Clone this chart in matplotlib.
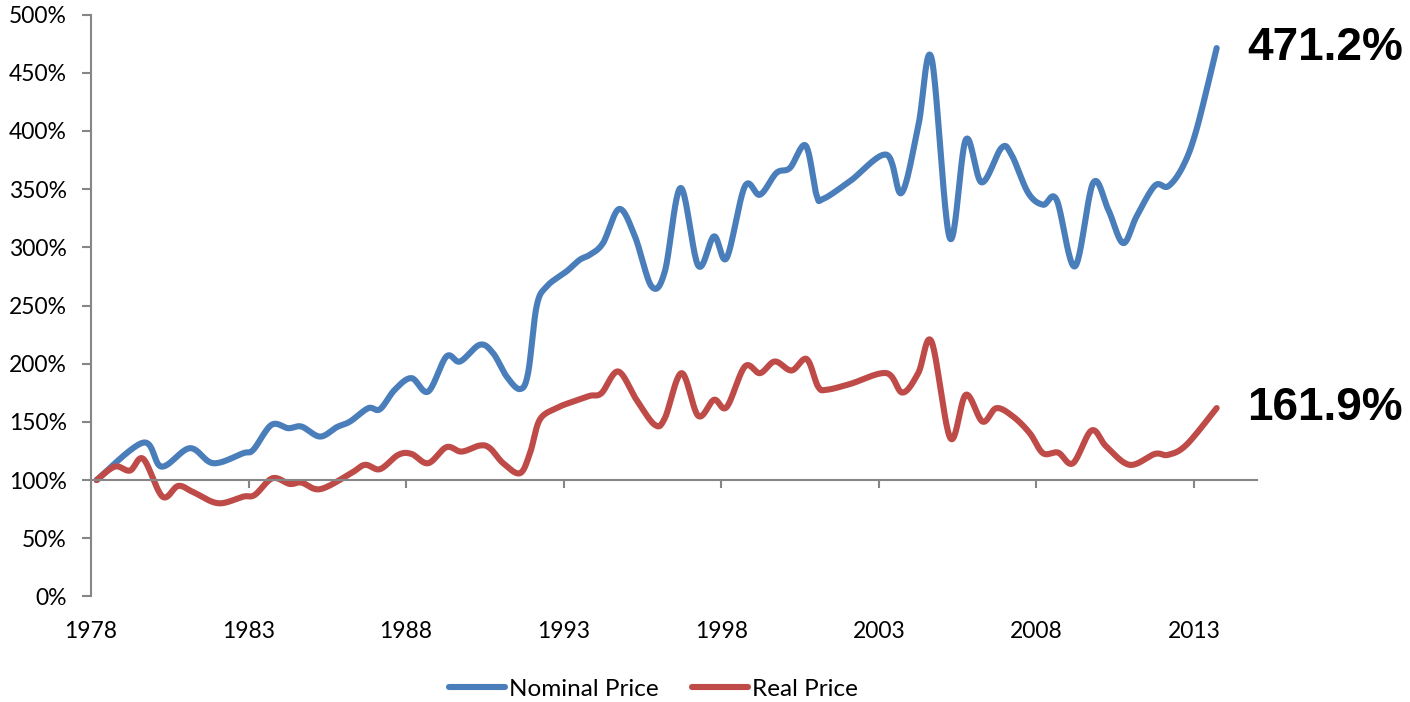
import numpy as np
import matplotlib.pyplot as plt

# values (index, 1978 = 100%)
nominal_years = [1978.18, 1979.66, 1980.24, 1981.14, 1981.88, 1982.83, 1983.15, 1983.73,
                 1984.26, 1984.68, 1985.27, 1985.80, 1986.22, 1986.80, 1987.17, 1987.64,
                 1988.17, 1988.70, 1989.28, 1989.71, 1990.34, 1990.76, 1991.19, 1991.61,
                 1991.87, 1992.14, 1992.46, 1993.09, 1993.51, 1993.83, 1994.25, 1994.76,
                 1995.26, 1995.79, 1996.21, 1996.71, 1997.27, 1997.77, 1998.17, 1998.75,
                 1999.23, 1999.75, 2000.18, 2000.68, 2001.02, 2001.23, 2002.08, 2003.24,
                 2003.72, 2004.25, 2004.67, 2005.25, 2005.76, 2006.26, 2006.89, 2007.21,
                 2007.74, 2008.21, 2008.64, 2009.22, 2009.80, 2010.28, 2010.75, 2011.18,
                 2011.76, 2012.18, 2012.65, 2013.08, 2013.72]
nominal_pct = [100, 132.2, 111.6, 127.4, 114.5, 123.1, 126.0, 147.5,
               144.6, 146.0, 137.4, 145.5, 150.3, 161.8, 160.9, 177.6,
               187.6, 176.1, 206.2, 201.9, 216.3, 209.1, 189.0, 178.2,
               191.9, 249.2, 266.4, 279.3, 289.3, 293.6, 303.7, 332.9,
               309.4, 266.4, 279.3, 351.0, 284.2, 309.4, 290.8, 352.4,
               345.2, 363.9, 368.2, 387.4, 345.2, 341.5, 356.7, 379.6,
               346.7, 404.0, 462.8, 308.0, 392.5, 355.8, 385.4, 379.6,
               346.7, 336.6, 340.9, 283.6, 355.3, 332.3, 303.7, 326.6,
               353.0, 352.4, 369.6, 401.1, 471.2]

real_years = [1978.18, 1978.76, 1979.24, 1979.66, 1980.27, 1980.77, 1981.25, 1982.04,
              1982.83, 1983.20, 1983.76, 1984.31, 1984.68, 1985.27, 1986.22, 1986.69,
              1987.17, 1987.75, 1988.17, 1988.70, 1989.28, 1989.76, 1990.34, 1990.66,
              1991.08, 1991.61, 1991.93, 1992.24, 1992.77, 1993.30, 1993.83, 1994.20,
              1994.73, 1995.31, 1995.89, 1996.21, 1996.74, 1997.27, 1997.77, 1998.17,
              1998.75, 1999.23, 1999.70, 2000.23, 2000.71, 2001.07, 2001.34, 2002.08,
              2003.24, 2003.75, 2004.25, 2004.67, 2005.27, 2005.76, 2006.29, 2006.73,
              2007.26, 2007.79, 2008.21, 2008.69, 2009.16, 2009.75, 2010.22, 2010.96,
              2011.76, 2012.18, 2012.76, 2013.72]
real_pct = [100, 111.6, 108.2, 118.2, 85.8, 95.0, 89.6, 80.1,
            85.8, 87.3, 101.6, 96.7, 97.9, 92.2, 105.3, 113.1,
            109.4, 121.7, 122.5, 114.5, 128.3, 124.5, 129.7, 127.4,
            114.5, 105.9, 123.1, 151.8, 161.8, 167.5, 172.4, 174.7,
            193.3, 169.0, 147.5, 153.2, 191.9, 155.2, 169.0, 162.7,
            197.6, 191.9, 201.9, 194.2, 204.0, 180.4, 177.6, 182.5,
            191.9, 175.2, 191.9, 219.1, 136.0, 173.3, 150.3, 161.8,
            154.6, 140.3, 123.1, 123.6, 114.5, 142.6, 128.8, 113.1,
            122.5, 121.7, 130.3, 161.9]

year_ticks = [1978, 1983, 1988, 1993, 1998, 2003, 2008, 2013]
pct_ticks = list(range(0, 501, 50))

BLUE = '#4a7ebb'
RED = '#be4b48'
GRAY = '#868686'


def smooth(x, y, n=24):
    # Excel-style smoothed line (Catmull-Rom through the points)
    pts = np.column_stack([x, y]).astype(float)
    p = np.vstack([pts[0], pts, pts[-1]])
    t = np.linspace(0, 1, n, endpoint=False)[:, None]
    segs = []
    for i in range(1, len(p) - 2):
        p0, p1, p2, p3 = p[i - 1], p[i], p[i + 1], p[i + 2]
        seg = 0.5 * (2 * p1 + (-p0 + p2) * t + (2 * p0 - 5 * p1 + 4 * p2 - p3) * t ** 2
                     + (-p0 + 3 * p1 - 3 * p2 + p3) * t ** 3)
        segs.append(seg)
    segs.append(pts[-1:])
    s = np.vstack(segs)
    return s[:, 0], s[:, 1]


plt.rcParams['font.family'] = ['Lato', 'DejaVu Sans']

fig = plt.figure(figsize=(14.1, 7.02), dpi=100)
ax = fig.add_axes([0.0645, 0.1503, 0.827, 0.829])

xs, ys = smooth(nominal_years, nominal_pct)
ax.plot(xs, ys, color=BLUE, lw=4.4, solid_capstyle='round', label='Nominal Price')
xs, ys = smooth(real_years, real_pct)
ax.plot(xs, ys, color=RED, lw=4.4, solid_capstyle='round', label='Real Price')

ax.set_xlim(1978, 2015)
ax.set_ylim(0, 500)

for side in ['top', 'right']:
    ax.spines[side].set_visible(False)
ax.spines['left'].set_color(GRAY)
ax.spines['left'].set_linewidth(1.5)
ax.spines['bottom'].set_position(('data', 100))
ax.spines['bottom'].set_color(GRAY)
ax.spines['bottom'].set_linewidth(1.5)

ax.set_yticks(pct_ticks)
ax.set_yticklabels([f'{v}%' for v in pct_ticks])
ax.tick_params(axis='y', direction='out', length=6.5, width=1.5, color=GRAY,
               pad=11, labelsize=16.5)
ax.set_xticks(year_ticks)
ax.set_xticklabels([])
ax.tick_params(axis='x', direction='out', length=6, width=1.5, color=GRAY)

# year labels sit below the plot, not at the 100% axis line
for yr in year_ticks:
    ax.annotate(str(yr), xy=(yr, 0), xycoords=('data', 'axes fraction'),
                xytext=(0, -25.5), textcoords='offset points',
                ha='center', va='center', fontsize=16.5)

ax.text(0.9914, 471.2, f'{nominal_pct[-1]:.1f}%', transform=ax.get_yaxis_transform(),
        ha='left', va='center', fontsize=33, fontweight='bold',
        family=['Liberation Sans', 'DejaVu Sans'])
ax.text(0.9914, 161.9, f'{real_pct[-1]:.1f}%', transform=ax.get_yaxis_transform(),
        ha='left', va='center', fontsize=33, fontweight='bold',
        family=['Liberation Sans', 'DejaVu Sans'])

fig.legend(loc='center', bbox_to_anchor=(0.4635, 0.018), ncol=2, frameon=False,
           fontsize=17.5, handlelength=2.3, handletextpad=0.15, columnspacing=1.4)

fig.savefig('out.png', dpi=100)
